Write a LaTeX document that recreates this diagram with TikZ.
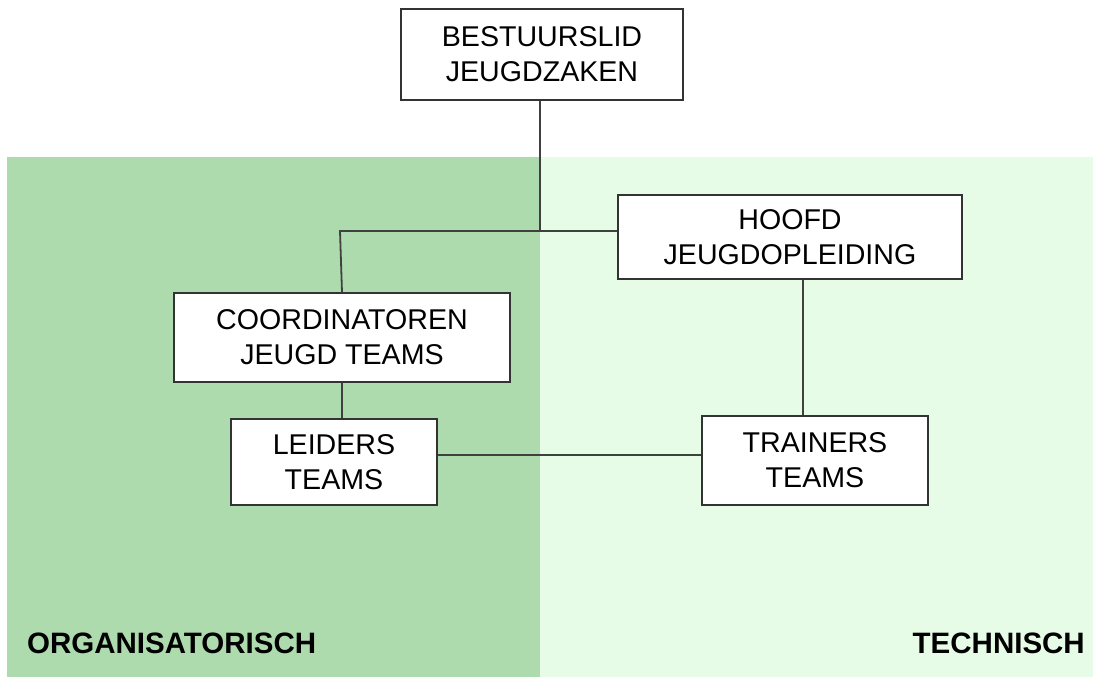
\documentclass[tikz,border=0pt]{standalone}
\usepackage{fontspec}
\setmainfont{Liberation Sans}
\usepackage{xcolor}
\definecolor{orgfill}{HTML}{AEDBAE}
\definecolor{techfill}{HTML}{E6FCE6}
\usetikzlibrary{positioning}
\tikzset{
  orgbox/.style={draw=black!80, fill=white, line width=1.4pt, align=center, inner sep=0pt,
    font=\fontsize{28.6}{35}\selectfont},
  link/.style={draw=black!75, line width=1.8pt},
  sidelabel/.style={font=\fontsize{29.5}{34}\selectfont\bfseries}
}

\begin{document}
\begin{tikzpicture}[x=1pt,y=-1pt]
\useasboundingbox (0,0) rectangle (1093,677);
% Areas
\fill[orgfill] (7,157) rectangle (540,677);
\fill[techfill] (540,157) rectangle (1093,677);

% Boxes
\node[orgbox, minimum width=282pt, minimum height=91pt] (bestuur) at (542,54.5) {BESTUURSLID\\JEUGDZAKEN};
\node[orgbox, minimum width=344pt, minimum height=84pt] (hoofd) at (790,237) {HOOFD\\JEUGDOPLEIDING};
\node[orgbox, minimum width=336pt, minimum height=89pt] (coord) at (342,337.5) {COORDINATOREN\\JEUGD TEAMS};
\node[orgbox, minimum width=206pt, minimum height=86pt] (leiders) at (334,462) {LEIDERS\\TEAMS};
\node[orgbox, minimum width=226pt, minimum height=89pt] (trainers) at (815,460.5) {TRAINERS\\TEAMS};

% Lines
\coordinate (join) at (540,231);
\coordinate (bend) at (340,231);
\draw[link] (join |- bestuur.south) -- (join);
\draw[link] (hoofd.west |- join) -- (bend) -- (coord.north);
\draw[link] (coord.south) -- (coord.south |- leiders.north);
\draw[link] ([xshift=13pt]hoofd.south) -- ([xshift=13pt]hoofd.south |- trainers.north);
\draw[link] ([yshift=7pt]leiders.east) -- ([yshift=7pt]leiders.east -| trainers.west);

% Labels
\node[sidelabel, anchor=base west, inner sep=0pt] (org) at (27,653) {ORGANISATORISCH};
\node[sidelabel, anchor=base east, inner sep=0pt] (tech) at (1085,653) {TECHNISCH};
\end{tikzpicture}
\end{document}
